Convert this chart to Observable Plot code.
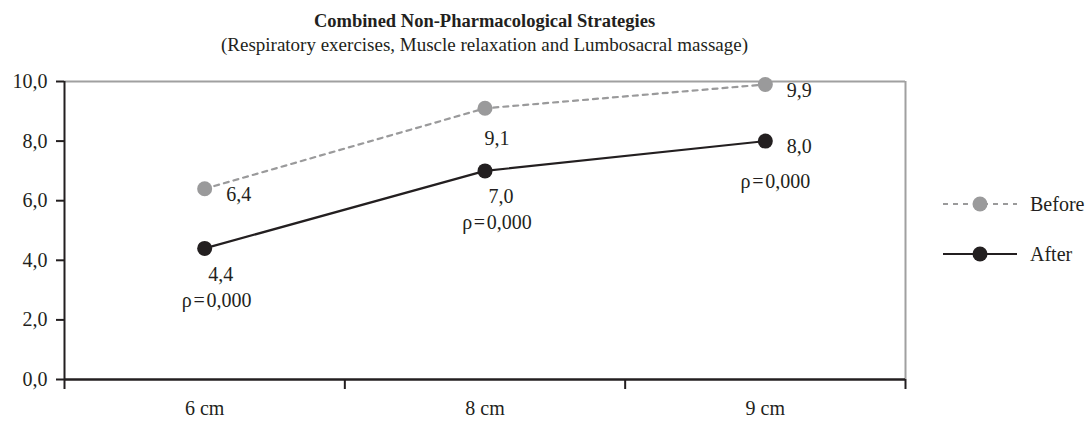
<!DOCTYPE html>
<html><head><meta charset="utf-8">
<script src="https://cdn.jsdelivr.net/npm/d3@7"></script>
<script src="https://cdn.jsdelivr.net/npm/@observablehq/plot@0.6"></script>
<style>
body{margin:0;background:#fff;font-family:"Liberation Serif","Times New Roman",serif;color:#231f20;}
#wrap{position:relative;width:1092px;height:425px;overflow:hidden;}
.title{position:absolute;left:64px;width:841px;text-align:center;font-size:19px;line-height:20px;white-space:nowrap;}
#chart{position:absolute;left:0;top:60px;}
.leg{position:absolute;left:943px;height:20px;display:flex;align-items:center;font-size:20px;line-height:20px;}
.leg svg{margin-right:13px;}
</style></head>
<body>
<div id="wrap">
  <div class="title" style="top:11px;font-weight:bold;font-size:18.5px;">Combined Non-Pharmacological Strategies</div>
  <div class="title" style="top:35px;">(Respiratory exercises, Muscle relaxation and Lumbosacral massage)</div>
  <div id="chart"></div>
  <div class="leg" style="top:194px;"><svg width="74" height="20"><line x1="0" x2="74" y1="10" y2="10" stroke="#9a9a9b" stroke-width="2.2" stroke-dasharray="5,5"/><circle cx="37" cy="10" r="7.5" fill="#9a9a9b"/></svg><span>Before</span></div>
  <div class="leg" style="top:244px;"><svg width="74" height="20"><line x1="0" x2="74" y1="10" y2="10" stroke="#231f20" stroke-width="2.2"/><circle cx="37" cy="10" r="7.5" fill="#231f20"/></svg><span>After</span></div>
</div>
<script>
const categories = ["6 cm", "8 cm", "9 cm"];
const beforeValues = [6.4, 9.1, 9.9];
const afterValues = [4.4, 7.0, 8.0];
const pLabels = ["ρ\u200A=\u200A0,000", "ρ\u200A=\u200A0,000", "ρ\u200A=\u200A0,000"];
const yTicks = [0, 2, 4, 6, 8, 10];

const fmt = v => v.toFixed(1).replace(".", ",");
const before = categories.map((c, i) => ({i, c, v: beforeValues[i]}));
const after = categories.map((c, i) => ({i, c, v: afterValues[i], p: pLabels[i]}));
const X = d => d.i + 0.5;
const ink = "#231f20", gray = "#9a9a9b";

const chart = Plot.plot({
  width: 1092, height: 365,
  marginLeft: 64, marginRight: 187, marginTop: 21, marginBottom: 46,
  style: {fontFamily: '"Liberation Serif","Times New Roman",serif', fontSize: "20px", color: ink, background: "transparent"},
  x: {domain: [0, categories.length]},
  y: {domain: [0, 10]},
  marks: [
    Plot.ruleY([10], {stroke: "#a0a0a0", strokeWidth: 2}),
    Plot.ruleX([categories.length], {stroke: "#a0a0a0", strokeWidth: 2}),
    Plot.ruleY([0], {stroke: ink, strokeWidth: 2.5}),
    Plot.ruleX([0], {stroke: ink, strokeWidth: 2}),
    Plot.axisY(yTicks, {tickSize: 8, tickPadding: 9, tickFormat: fmt, strokeWidth: 2, label: null}),
    Plot.axisX(d3.range(categories.length + 1), {tickSize: 10, tickFormat: () => "", strokeWidth: 2, label: null}),
    Plot.axisX(categories.map((c, i) => i + 0.5), {tickSize: 0, tickPadding: 21, tickFormat: x => categories[Math.floor(x)], label: null}),
    Plot.line(before, {x: X, y: "v", stroke: gray, strokeWidth: 2.2, strokeDasharray: "5,5"}),
    Plot.line(after, {x: X, y: "v", stroke: ink, strokeWidth: 2.2}),
    Plot.dot(before, {x: X, y: "v", r: 7.5, fill: gray}),
    Plot.dot(after, {x: X, y: "v", r: 7.5, fill: ink}),
    // Before value labels
    Plot.text(before, {filter: d => d.i !== 1, x: X, y: "v", text: d => fmt(d.v), dx: 34, dy: 6, fill: ink}),
    Plot.text(before, {filter: d => d.i === 1, x: X, y: "v", text: d => fmt(d.v), dx: 12, dy: 30, fill: ink}),
    // After value labels
    Plot.text(after, {filter: d => d.i !== 2, x: X, y: "v", text: d => fmt(d.v), dx: 16, dy: 26, fill: ink}),
    Plot.text(after, {filter: d => d.i !== 2, x: X, y: "v", text: "p", dx: 12, dy: 52, fill: ink}),
    Plot.text(after, {filter: d => d.i === 2, x: X, y: "v", text: d => fmt(d.v), dx: 34, dy: 5, fill: ink}),
    Plot.text(after, {filter: d => d.i === 2, x: X, y: "v", text: "p", dx: 10, dy: 40, fill: ink})
  ]
});
document.getElementById("chart").appendChild(chart);
</script>
</body></html>
